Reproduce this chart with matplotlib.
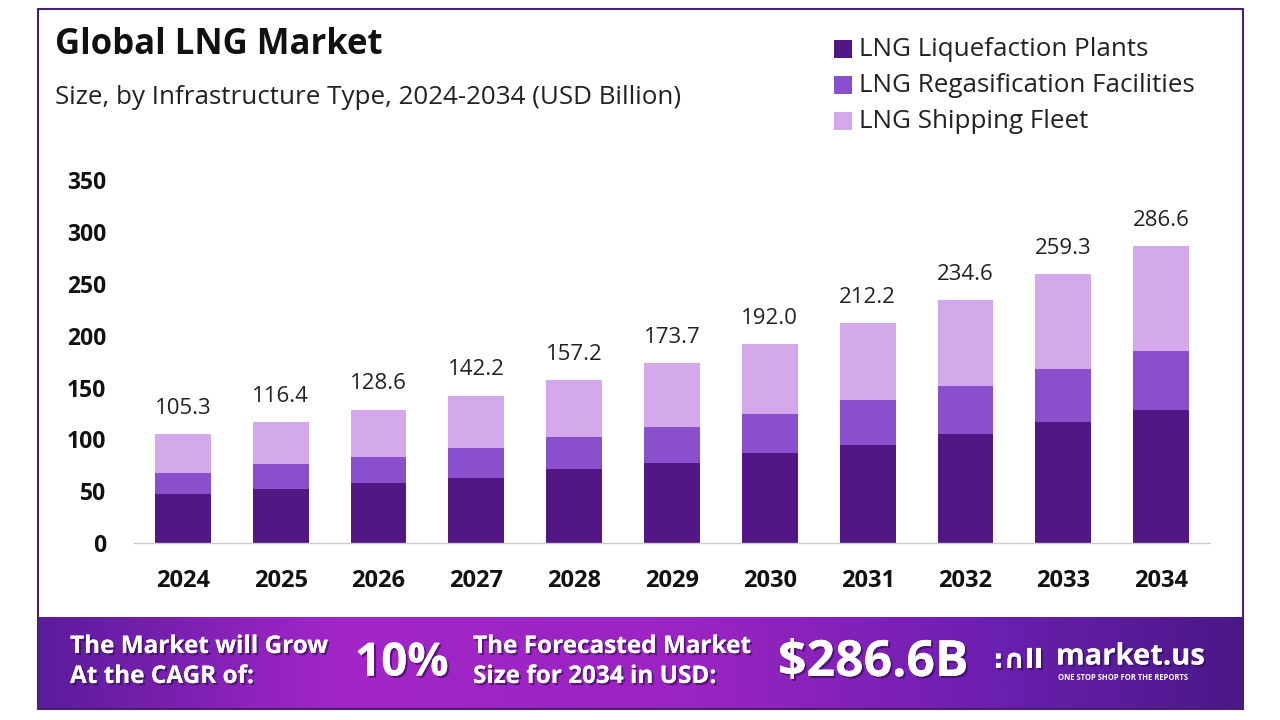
import matplotlib
matplotlib.use("Agg")
import matplotlib.pyplot as plt
import numpy as np
from matplotlib.patches import Rectangle
from matplotlib.colors import LinearSegmentedColormap
import matplotlib.patheffects as pe

years = ["2024", "2025", "2026", "2027", "2028", "2029", "2030", "2031", "2032", "2033", "2034"]
totals = [105.3, 116.4, 128.6, 142.2, 157.2, 173.7, 192.0, 212.2, 234.6, 259.3, 286.6]
liquefaction = [47.0, 52.0, 57.5, 63.0, 71.0, 77.5, 86.5, 94.5, 105.0, 116.4, 128.3]
regasification = [21.0, 24.0, 25.7, 29.0, 31.0, 34.0, 37.5, 43.4, 46.7, 51.4, 57.2]
shipping = [37.3, 40.4, 45.4, 50.2, 55.2, 62.2, 68.0, 74.3, 82.9, 91.5, 101.1]
series_names = ["LNG Liquefaction Plants", "LNG Regasification Facilities", "LNG Shipping Fleet"]
colors = ["#521685", "#8a4fcc", "#d3a9ec"]
yticks = [0, 50, 100, 150, 200, 250, 300, 350]

FONT = "Open Sans"
plt.rcParams["font.family"] = [FONT, "DejaVu Sans"]

fig = plt.figure(figsize=(12.8, 7.2), dpi=100)
fig.patch.set_facecolor("white")

W, H = 1280, 720
def fx(px): return px / W
def fy(py): return 1 - py / H

fig.patches.append(Rectangle((fx(38), fy(709)), fx(1243) - fx(38), fy(9) - fy(709),
                             transform=fig.transFigure, fill=False, edgecolor="#4a2070", linewidth=1.5, zorder=0))

# footer gradient
grad_ax = fig.add_axes([fx(38), fy(709), fx(1243) - fx(38), fy(617) - fy(709)])
cmap = LinearSegmentedColormap.from_list("g", [(0, "#5a1c9c"), (0.25, "#a326c8"), (0.55, "#9a24c2"), (0.8, "#6a1fae"), (1, "#4a1888")])
gx = np.linspace(0, 1, 512).reshape(1, -1)
grad_ax.imshow(gx, aspect="auto", cmap=cmap, extent=[0, 1, 0, 1])
grad_ax.set_axis_off()

shadow = [pe.withSimplePatchShadow(offset=(1.5, -1.5), shadow_rgbFace="#2a0a4a", alpha=0.6), pe.Normal()]
fig.text(fx(70), fy(647), "The Market will Grow", color="white", fontsize=17.5, fontweight="bold", va="center", path_effects=shadow)
fig.text(fx(70), fy(677), "At the CAGR of:", color="white", fontsize=17.5, fontweight="bold", va="center", path_effects=shadow)
fig.text(fx(355), fy(663), "10%", color="white", fontsize=33, fontweight="bold", va="center", path_effects=shadow)
fig.text(fx(473), fy(647), "The Forecasted Market", color="white", fontsize=17.5, fontweight="bold", va="center", path_effects=shadow)
fig.text(fx(473), fy(677), "Size for 2034 in USD:", color="white", fontsize=17.5, fontweight="bold", va="center", path_effects=shadow)
fig.text(fx(778), fy(663), "$286.6B", color="white", fontsize=36, fontweight="bold", va="center", path_effects=shadow)
fig.text(fx(993), fy(661), ":\u2229ll", color="white", fontsize=19, fontweight="bold", va="center", family=["DejaVu Sans"], path_effects=shadow)
fig.text(fx(1056), fy(657), "market.us", color="white", fontsize=21, fontweight="bold", va="center", path_effects=shadow)
fig.text(fx(1058), fy(677), "ONE STOP SHOP FOR THE REPORTS", color="white", fontsize=5.5, fontweight="bold", va="center")

# titles
fig.text(fx(55), fy(45), "Global LNG Market", fontsize=25, fontweight="bold", color="#111111", va="center")
fig.text(fx(55), fy(97), "Size, by Infrastructure Type, 2024-2034 (USD Billion)", fontsize=18.7, color="#222222", va="center")

# legend
for i, (name, c) in enumerate(zip(series_names, colors)):
    yy = 49 + 36 * i
    fig.patches.append(Rectangle((fx(834), fy(yy + 9)), fx(18), fy(0) - fy(18), transform=fig.transFigure,
                                 facecolor=c, edgecolor="none"))
    fig.text(fx(859), fy(yy), name, fontsize=18.7, color="#222222", va="center")

# main axes
ax = fig.add_axes([fx(134), fy(543), fx(1210) - fx(134), fy(175) - fy(543)])
x = np.arange(len(years))
bw = 0.57
b1 = np.array(liquefaction)
b2 = np.array(regasification)
b3 = np.array(shipping)
ax.bar(x, b1, bw, color=colors[0], label=series_names[0])
ax.bar(x, b2, bw, bottom=b1, color=colors[1], label=series_names[1])
ax.bar(x, b3, bw, bottom=b1 + b2, color=colors[2], label=series_names[2])
for xi, t in zip(x, totals):
    ax.annotate(f"{t:.1f}", (xi, t), xytext=(0, 11), textcoords="offset points", ha="center", va="bottom",
                fontsize=16, color="#222222")

ax.set_xlim(-0.5, 10.5)
ax.set_ylim(0, 355)
ax.set_yticks(yticks)
ax.set_yticklabels([str(v) for v in yticks], fontsize=16.5, fontweight="bold", color="#111111")
ax.set_xticks(x)
ax.set_xticklabels(years, fontsize=17, fontweight="bold", color="#111111")
ax.tick_params(axis="both", length=0)
ax.tick_params(axis="y", pad=20)
ax.tick_params(axis="x", pad=19)
for s in ["top", "right", "left"]:
    ax.spines[s].set_visible(False)
ax.spines["bottom"].set_color("#cccccc")
ax.spines["bottom"].set_linewidth(1)
ax.set_facecolor("none")

fig.savefig("out.png", dpi=100, facecolor="white")
